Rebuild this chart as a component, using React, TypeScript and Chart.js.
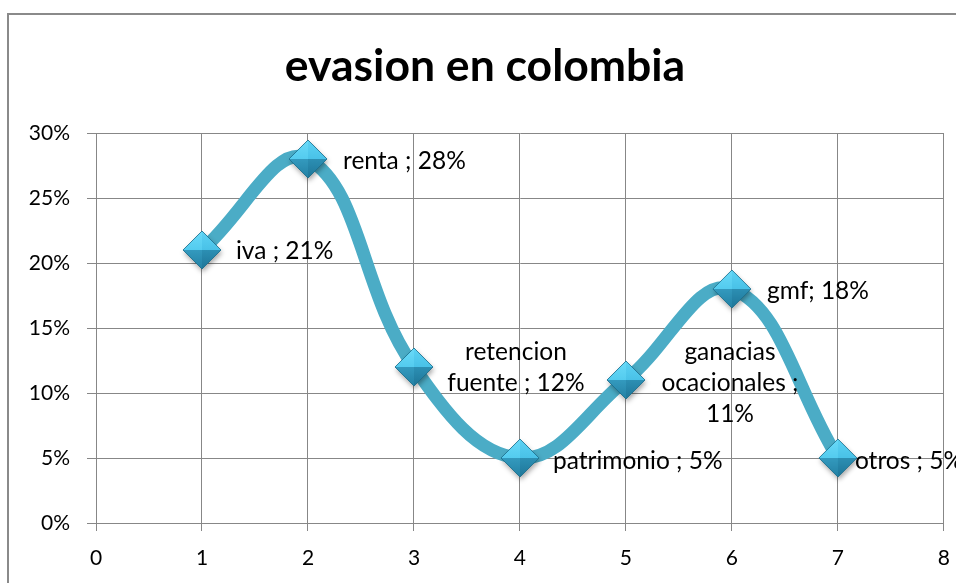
import React, { useEffect, useRef } from "react";
import { Chart, registerables } from "chart.js";

Chart.register(...registerables);

// ---------- data ----------
const TITLE = "evasion en colombia";
const categories = ["iva", "renta", "retencion fuente", "patrimonio", "ganacias ocacionales", "gmf", "otros"];
const xValues = [1, 2, 3, 4, 5, 6, 7];
const values = [21, 28, 12, 5, 11, 18, 5]; // percent
const dataLabels = [
  ["iva ; 21%"],
  ["renta ; 28%"],
  ["retencion", "fuente ; 12%"],
  ["patrimonio ; 5%"],
  ["ganacias", "ocacionales ;", "11%"],
  ["gmf; 18%"],
  ["otros ; 5%"],
];
const X_MIN = 0;
const X_MAX = 8;
const X_STEP = 1;
const Y_MIN = 0;
const Y_MAX = 30;
const Y_STEP = 5;

// ---------- styling ----------
const FONT = "Lato";
const LINE_COLOR = "#4BACC6";
const GRID_COLOR = "#878787";
const LABEL_SIZE = 24.5;
const LABEL_LINE_H = 31;
const labelPlacement = [
  { dx: 34, dy: 1, align: "left" },
  { dx: 35, dy: 2, align: "left" },
  { dx: 102, dy: 1, align: "center" },
  { dx: 33, dy: 3, align: "left" },
  { dx: 104, dy: 3, align: "center" },
  { dx: 35, dy: 2, align: "left" },
  { dx: 17, dy: 3, align: "left" },
];

function makeDiamond(r: number): HTMLCanvasElement {
  const pad = 7;
  const size = Math.ceil(2 * r + pad * 2);
  const c = document.createElement("canvas");
  c.width = size;
  c.height = size;
  const g = c.getContext("2d")!;
  const cx = size / 2;
  const cy = size / 2;
  const path = () => {
    g.beginPath();
    g.moveTo(cx, cy - r);
    g.lineTo(cx + r, cy);
    g.lineTo(cx, cy + r);
    g.lineTo(cx - r, cy);
    g.closePath();
  };
  g.save();
  g.shadowColor = "rgba(0,0,0,0.35)";
  g.shadowBlur = 5;
  g.shadowOffsetX = 1;
  g.shadowOffsetY = 3;
  path();
  g.fillStyle = "#2E9CC2";
  g.fill();
  g.restore();

  const facet = (ax: number, ay: number, bx: number, by: number, c1: string, c2: string) => {
    const grad = g.createLinearGradient(cx, cy - r, cx, cy + r);
    grad.addColorStop(0, c1);
    grad.addColorStop(1, c2);
    g.beginPath();
    g.moveTo(cx, cy);
    g.lineTo(ax, ay);
    g.lineTo(bx, by);
    g.closePath();
    g.fillStyle = grad;
    g.fill();
  };
  facet(cx - r, cy, cx, cy - r, "#6ADAF8", "#3DBDE6");
  facet(cx, cy - r, cx + r, cy, "#5CD2F4", "#36B1DB");
  facet(cx + r, cy, cx, cy + r, "#3AA8CF", "#1E7698");
  facet(cx, cy + r, cx - r, cy, "#44B2D8", "#2381A4");
  path();
  g.strokeStyle = "rgba(25,105,135,0.75)";
  g.lineWidth = 1;
  g.stroke();
  return c;
}

const labelPlugin = {
  id: "pointLabels",
  afterDatasetsDraw(chart: any) {
    const meta = chart.getDatasetMeta(0);
    const ctx = chart.ctx;
    ctx.save();
    ctx.font = `${LABEL_SIZE}px ${FONT}`;
    ctx.fillStyle = "#000";
    ctx.textBaseline = "middle";
    meta.data.forEach((pt: any, i: number) => {
      const lines = dataLabels[i];
      const p = labelPlacement[i];
      const n = lines.length;
      ctx.textAlign = p.align;
      lines.forEach((line, j) => {
        const y = pt.y + p.dy + (j - (n - 1) / 2) * LABEL_LINE_H;
        ctx.fillText(line, pt.x + p.dx, y);
      });
    });
    ctx.restore();
  },
};

export default function App() {
  const ref = useRef<HTMLCanvasElement | null>(null);

  useEffect(() => {
    if (!ref.current) return;
    Chart.defaults.font.family = FONT;
    const diamond = makeDiamond(19);
    const chart = new Chart(ref.current, {
      type: "line",
      data: {
        labels: categories,
        datasets: [
          {
            label: "evasion",
            data: xValues.map((x, i) => ({ x, y: values[i] })),
            borderColor: LINE_COLOR,
            borderWidth: 13,
            tension: 0.4,
            borderCapStyle: "round",
            borderJoinStyle: "round",
            pointStyle: diamond as any,
            pointRadius: 19,
            pointHoverRadius: 19,
            pointBorderWidth: 0,
            pointHoverBorderWidth: 0,
            fill: false,
            clip: false as any,
          },
        ],
      },
      options: {
        responsive: false,
        animation: false,
        events: [],
        layout: { autoPadding: false, padding: { left: 17, right: 21, top: 0, bottom: 0 } },
        plugins: {
          legend: { display: false },
          tooltip: { enabled: false },
          title: {
            display: true,
            text: TITLE,
            color: "#000",
            font: { family: FONT, size: 44.5, weight: "bold", lineHeight: 1.2 },
            padding: { top: 24.5, bottom: 40.1 },
          },
        },
        scales: {
          x: {
            type: "linear",
            min: X_MIN,
            max: X_MAX,
            afterFit: (s: any) => {
              s.height = 72;
            },
            ticks: {
              stepSize: X_STEP,
              color: "#000",
              font: { family: FONT, size: 21 },
              padding: 15,
              maxRotation: 0,
            },
            grid: { color: GRID_COLOR, lineWidth: 1, tickLength: 8 },
            border: { color: GRID_COLOR, width: 1 },
          },
          y: {
            min: Y_MIN,
            max: Y_MAX,
            afterFit: (s: any) => {
              s.width = 70;
            },
            ticks: {
              stepSize: Y_STEP,
              color: "#000",
              font: { family: FONT, size: 21 },
              padding: 17,
              callback: (v: any) => `${v}%`,
            },
            grid: { color: GRID_COLOR, lineWidth: 1, tickLength: 9 },
            border: { color: GRID_COLOR, width: 1 },
          },
        },
      },
      plugins: [labelPlugin],
    });
    return () => chart.destroy();
  }, []);

  return (
    <div
      style={{
        position: "fixed",
        left: 0,
        top: 0,
        width: 956,
        height: 583,
        overflow: "hidden",
        background: "#fff",
      }}
    >
      <div
        style={{
          position: "absolute",
          left: 7,
          top: 13,
          border: "2px solid #8a8a8a",
          width: 956,
          height: 580,
        }}
      >
        <canvas ref={ref} width={956} height={580} style={{ display: "block", width: 956, height: 580 }} />
      </div>
    </div>
  );
}
